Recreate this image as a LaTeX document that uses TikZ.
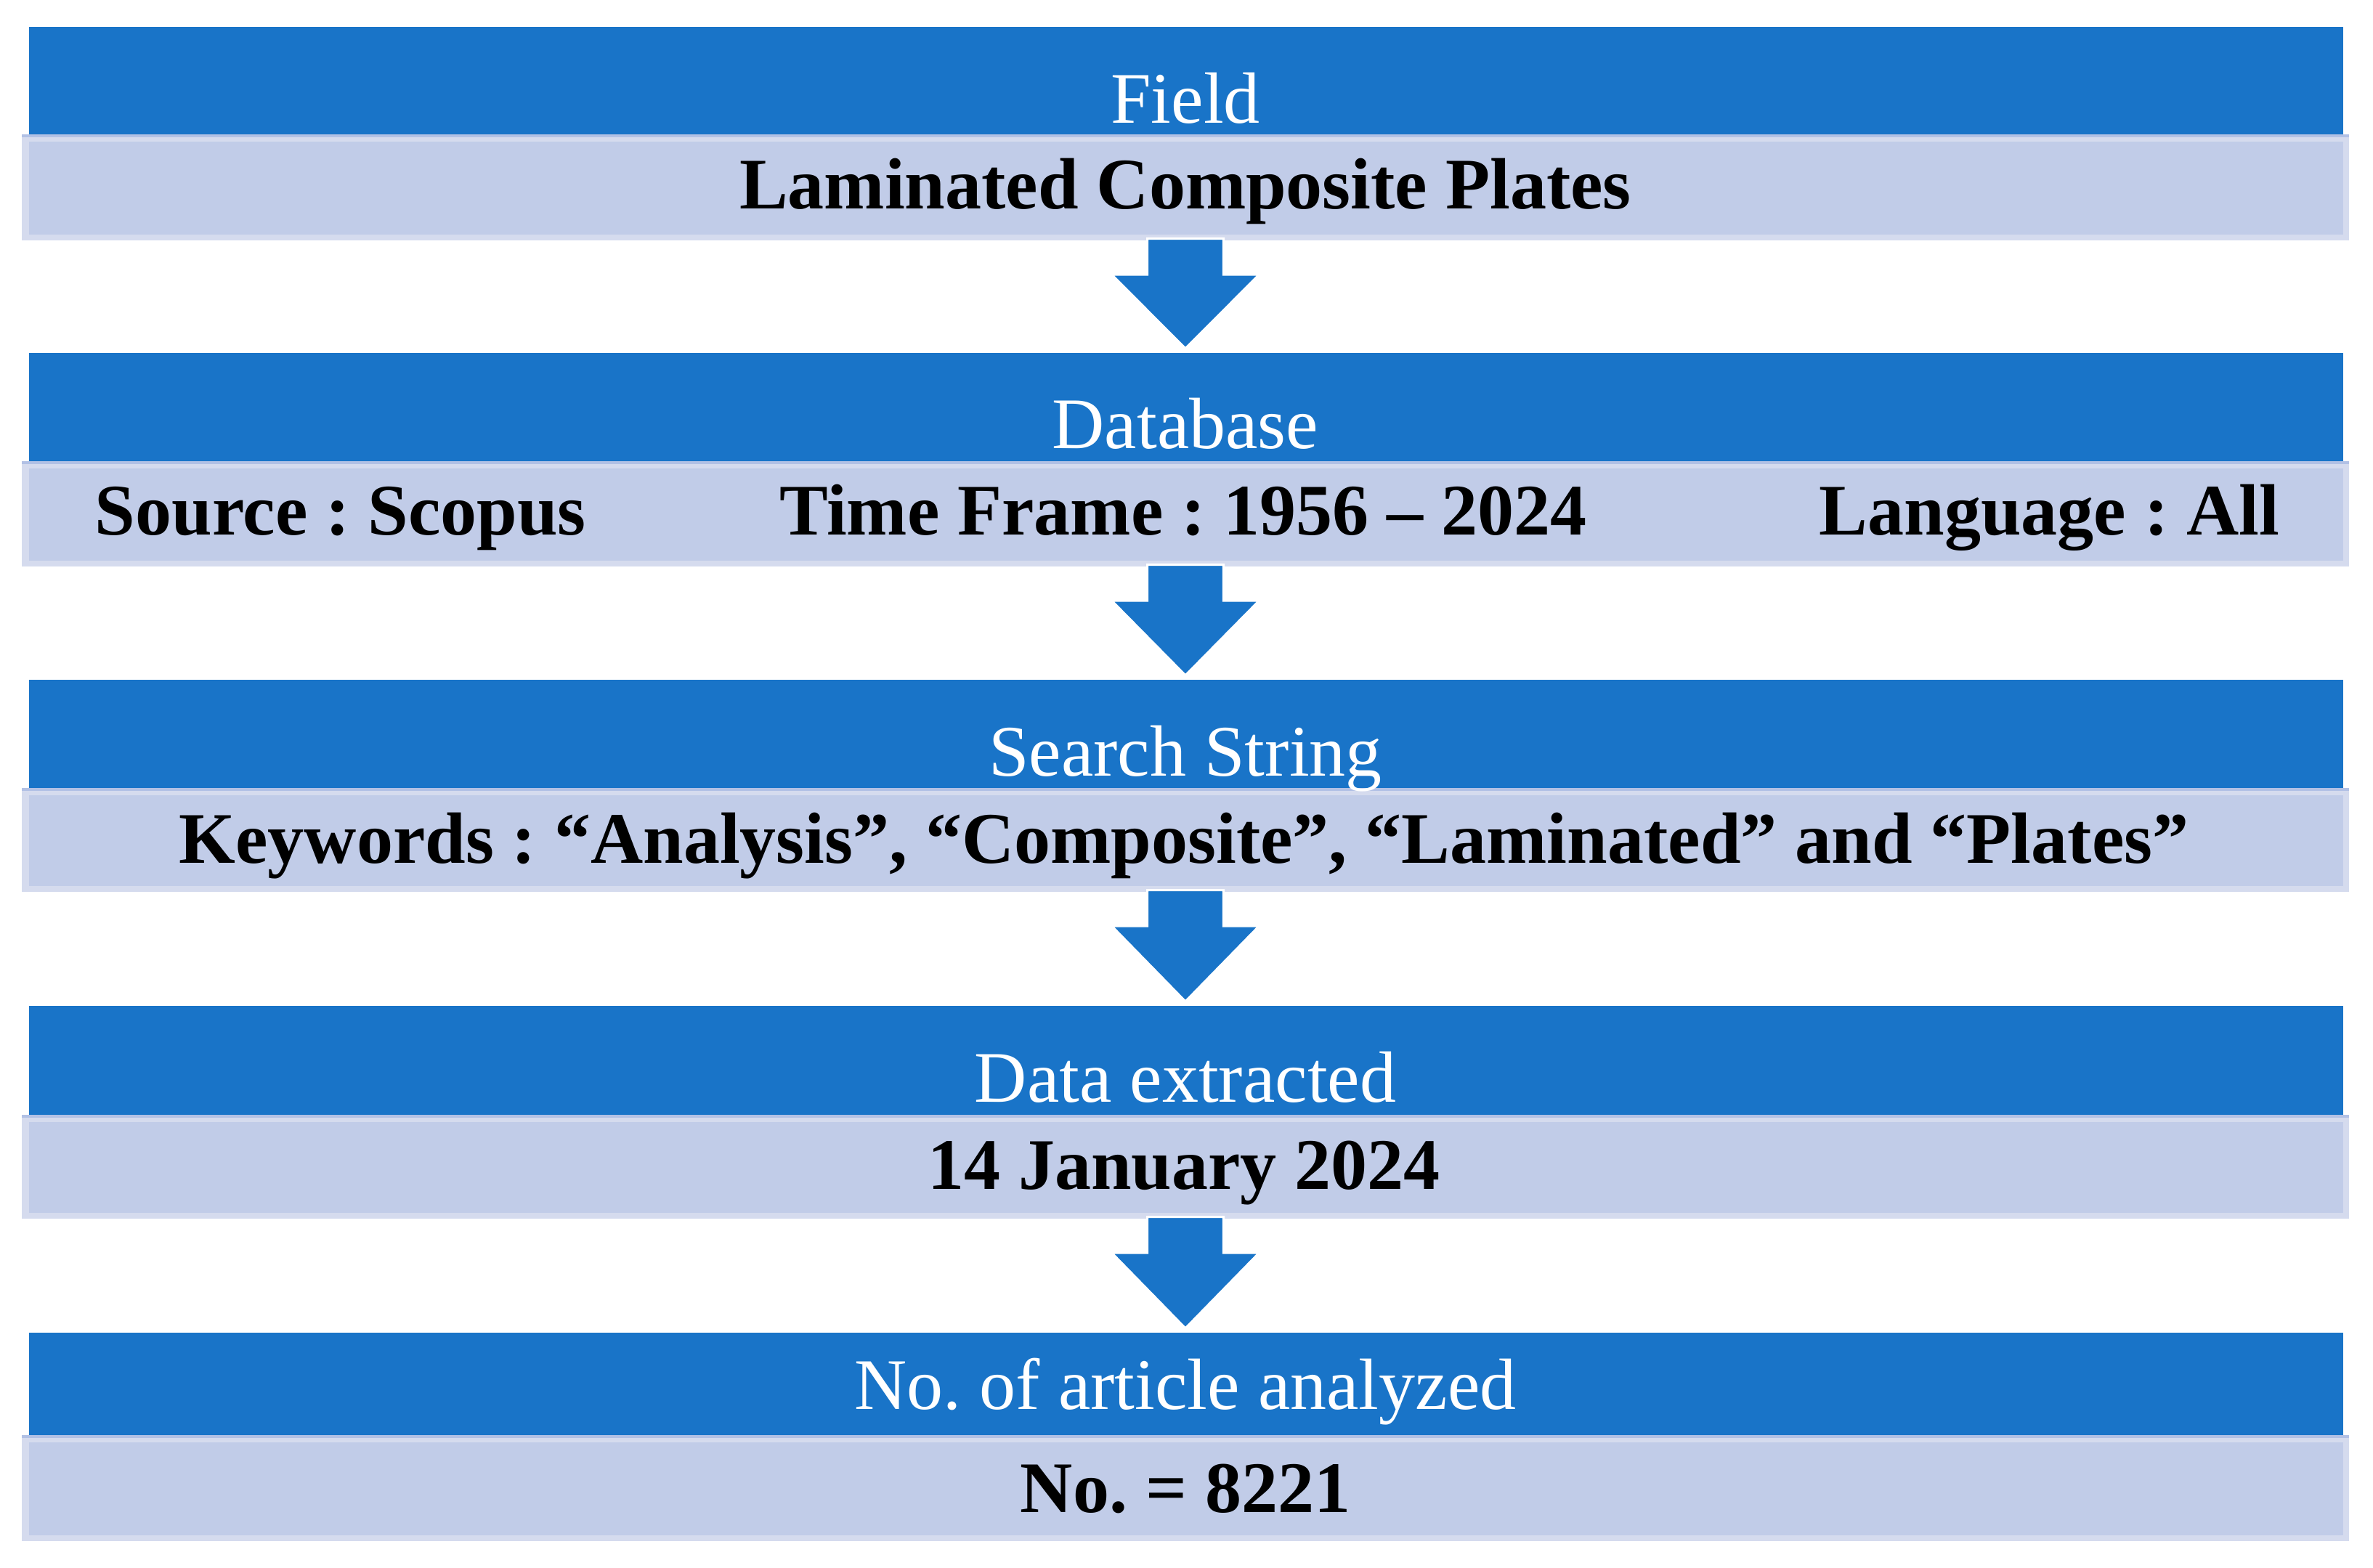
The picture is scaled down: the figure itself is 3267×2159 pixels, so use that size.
\documentclass[tikz,border=0pt]{standalone}
\usepackage{fontspec}
\setmainfont{Liberation Serif}
\frenchspacing
\usetikzlibrary{fit,calc}
\definecolor{bandblue}{RGB}{25,116,200}
\definecolor{lightfill}{RGB}{193,204,232}
\definecolor{lightedge}{RGB}{213,219,238}
\definecolor{lighttop}{RGB}{178,193,229}
\tikzset{
  blueband/.style={inner sep=0, outer sep=0, fill=bandblue, draw=none},
  lightouter/.style={inner sep=0, outer sep=0, fill=lightedge, draw=none},
  lightinner/.style={inner sep=0, outer sep=0, fill=lightfill, draw=none},
  titletext/.style={anchor=base, inner sep=0, text=white, font=\fontsize{25}{30}\selectfont\frenchspacing},
  bodytext/.style={anchor=base, inner sep=0, text=black, font=\fontsize{25}{30}\selectfont\bfseries\frenchspacing},
  flowarrow/.style={fill=bandblue, draw=white, line width=0.8pt, line join=miter}
}
\begin{document}
\begin{tikzpicture}[x=0.25pt,y=-0.25pt]
\useasboundingbox (0,0) rectangle (3267,2159);
\fill[white] (0,0) rectangle (3267,2159);

% Row 1
\node[blueband, fit={(40,37)(3226,187)}] (t1) {};
\node[lightouter, fit={(30,187)(3234,331)}] (l1) {};
\node[lightinner, fit={(40,195)(3226,323)}] (l1in) {};
\draw[lighttop, line width=0.8pt] (l1.north west) -- (l1.north east);
\node[titletext] (t1txt) at (1632,170) {Field};
\node[bodytext] (l1txt) at (1632,288) {Laminated Composite Plates};

% Row 2
\node[blueband, fit={(40,486)(3226,637)}] (t2) {};
\node[lightouter, fit={(30,637)(3234,780)}] (l2) {};
\node[lightinner, fit={(40,645)(3226,772)}] (l2in) {};
\draw[lighttop, line width=0.8pt] (l2.north west) -- (l2.north east);
\node[titletext] (t2txt) at (1632,618) {Database};
\node[bodytext, anchor=base west] (l2a) at (130,737) {Source : Scopus};
\node[bodytext] (l2b) at (1629,737) {Time Frame : 1956 – 2024};
\node[bodytext, anchor=base east] (l2c) at (3139,737) {Language : All};

% Row 3
\node[blueband, fit={(40,936)(3226,1087)}] (t3) {};
\node[lightouter, fit={(30,1087)(3234,1228)}] (l3) {};
\node[lightinner, fit={(40,1095)(3226,1220)}] (l3in) {};
\draw[lighttop, line width=0.8pt] (l3.north west) -- (l3.north east);
\node[titletext] (t3txt) at (1632,1069) {Search String};
\node[bodytext] (l3txt) at (1630,1188) {Keywords : “Analysis”, “Composite”, “Laminated” and “Plates”};

% Row 4
\node[blueband, fit={(40,1385)(3226,1537)}] (t4) {};
\node[lightouter, fit={(30,1537)(3234,1678)}] (l4) {};
\node[lightinner, fit={(40,1545)(3226,1670)}] (l4in) {};
\draw[lighttop, line width=0.8pt] (l4.north west) -- (l4.north east);
\node[titletext] (t4txt) at (1632,1517) {Data extracted};
\node[bodytext] (l4txt) at (1630,1637) {14 January 2024};

% Row 5
\node[blueband, fit={(40,1835)(3226,1978)}] (t5) {};
\node[lightouter, fit={(30,1978)(3234,2122)}] (l5) {};
\node[lightinner, fit={(40,1986)(3226,2114)}] (l5in) {};
\draw[lighttop, line width=0.8pt] (l5.north west) -- (l5.north east);
\node[titletext] (t5txt) at (1632,1940) {No. of article analyzed};
\node[bodytext] (l5txt) at (1632,2082) {No. = 8221};

% Arrows
\foreach \a/\b in {l1/t2, l2/t3, l3/t4, l4/t5}{
  \path[flowarrow] let \p1=(\a.south), \p2=(\b.north) in
    (\x1-13.1pt,\y1+0.6pt) -- (\x1+13.1pt,\y1+0.6pt) -- (\x1+13.1pt,\y1-11.75pt)
    -- (\x1+25.4pt,\y1-11.75pt) -- (\x1,\y2+1.5pt) -- (\x1-25.4pt,\y1-11.75pt)
    -- (\x1-13.1pt,\y1-11.75pt) -- cycle;
}
\end{tikzpicture}
\end{document}
